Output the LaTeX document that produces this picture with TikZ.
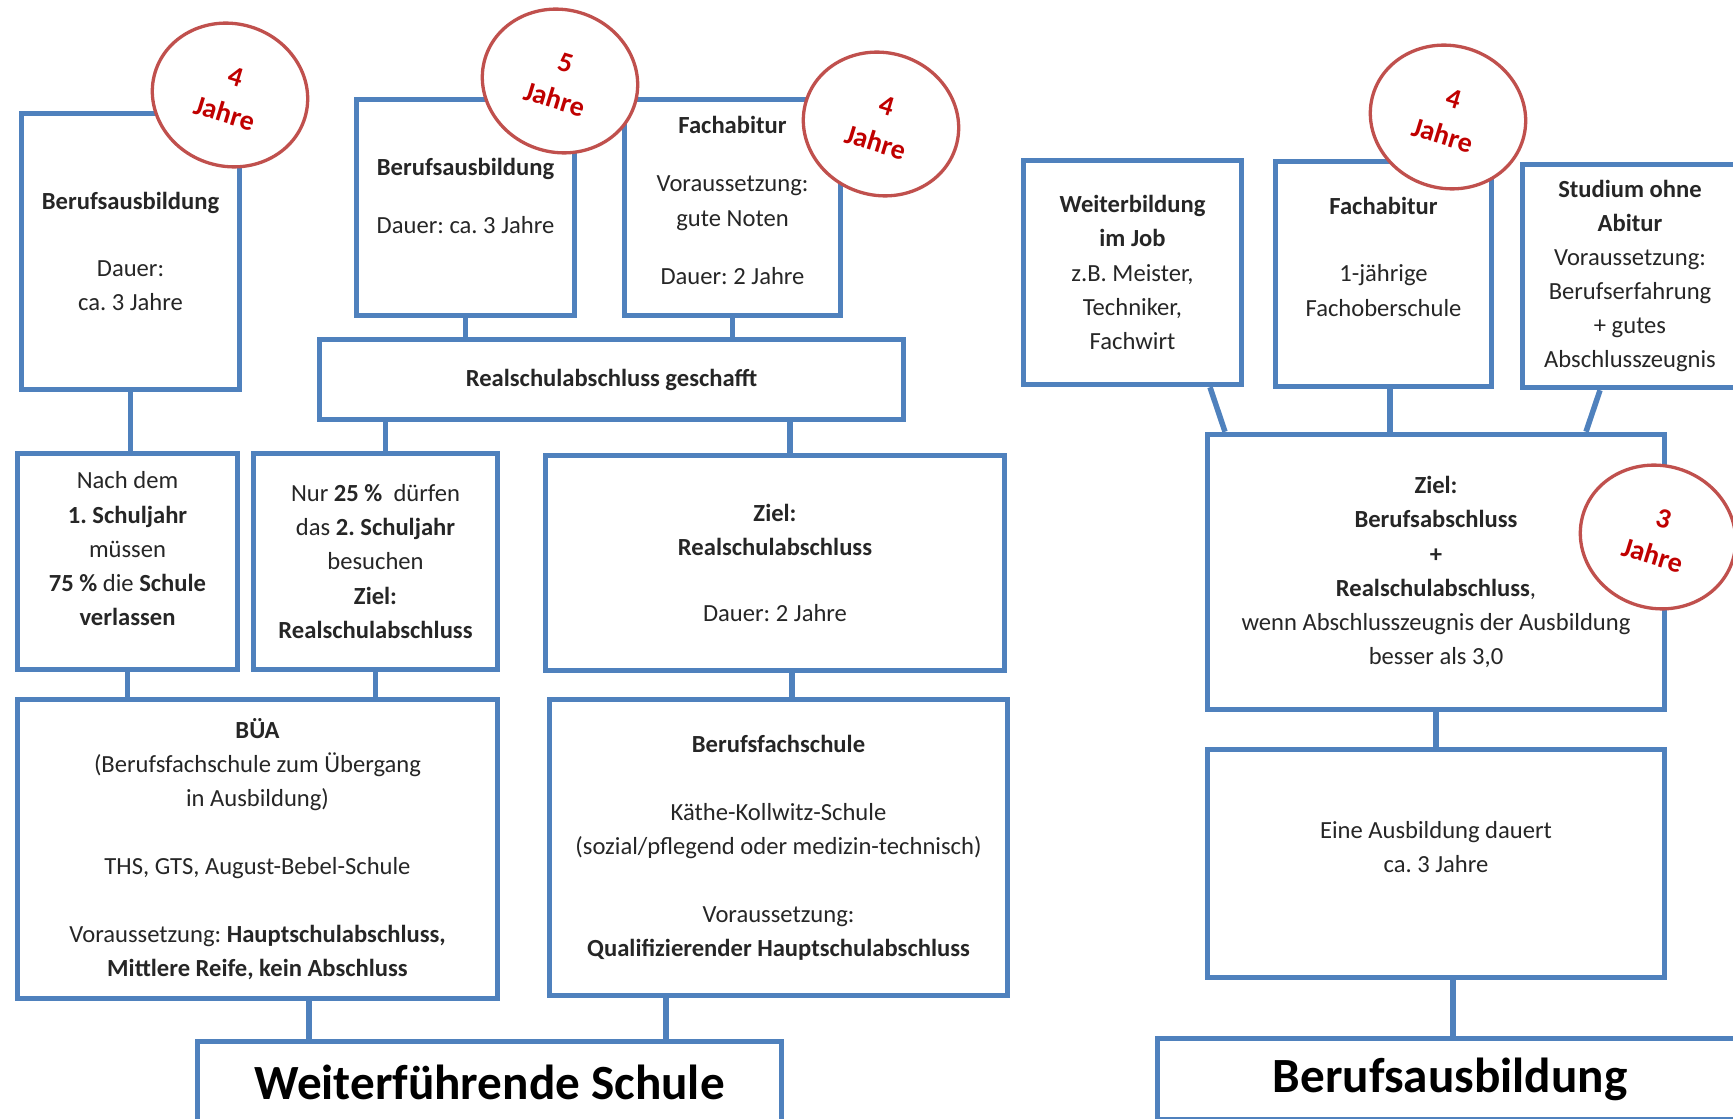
\documentclass[tikz,border=0pt]{standalone}
\usepackage{fontspec}
\setmainfont{Carlito}
\frenchspacing
\definecolor{boxblue}{RGB}{79,129,189}
\definecolor{ringred}{RGB}{192,80,77}
\definecolor{yearred}{RGB}{192,0,0}
\definecolor{txtgray}{RGB}{38,38,38}
\usetikzlibrary{shapes.geometric}

\begin{document}
\begin{tikzpicture}[
    box/.style={draw=boxblue,line width=0.11cm,fill=white,align=center,inner sep=0pt,
      text=txtgray,font=\fontsize{14}{19.4}\selectfont},
    title/.style={box,text=black,font=\fontsize{28}{34}\selectfont\bfseries},
    ring/.style={ellipse,draw=ringred,line width=0.066cm,fill=white,rotate=-17,
      minimum width=3.13cm,minimum height=2.85cm,align=center,inner sep=0pt,
      text=yearred,font=\fontsize{16}{22}\selectfont\bfseries},
    link/.style={draw=boxblue,line width=0.11cm}]

  \useasboundingbox (0,0) rectangle (34.66,22.36);
  \clip (0,0) rectangle (34.66,22.36);

  %% Left: Weiterfuehrende Schule
  \node[box,minimum width=4.36cm,minimum height=5.52cm] (bA) at (2.61,17.33)
    {\textbf{Berufsausbildung}\\[0.66cm] Dauer:\\ ca. 3 Jahre};
  \node[box,minimum width=4.36cm,minimum height=4.32cm] (bB) at (9.31,18.21)
    {\textbf{Berufsausbildung}\\[0.48cm] Dauer: ca. 3 Jahre\\[-0.42cm] \strut};
  \node[box,minimum width=4.32cm,minimum height=4.32cm] (bC) at (14.65,18.21)
    {\textbf{Fachabitur}\\[0.48cm] Voraussetzung:\\ gute Noten\\[0.48cm] Dauer: 2 Jahre\\[-0.60cm] \strut};
  \node[box,minimum width=11.68cm,minimum height=1.60cm] (bRS) at (12.23,14.77)
    {\textbf{Realschulabschluss geschafft}};

  \node[box,minimum width=4.40cm,minimum height=4.32cm] (bN1) at (2.55,11.13)
    {Nach dem\\ \textbf{1. Schuljahr}\\ müssen\\ \textbf{75 \%} die \textbf{Schule}\\ \textbf{verlassen}\\[-0.37cm] \strut};
  \node[box,minimum width=4.88cm,minimum height=4.32cm] (bN2) at (7.51,11.13)
    {Nur \textbf{25 \%}\ \ dürfen\\ das \textbf{2. Schuljahr}\\ besuchen\\ \textbf{Ziel:}\\ \textbf{Realschulabschluss}};
  \node[box,minimum width=9.18cm,minimum height=4.30cm] (bZR) at (15.50,11.10)
    {\textbf{Ziel:}\\ \textbf{Realschulabschluss}\\[0.64cm] Dauer: 2 Jahre};

  \node[box,minimum width=9.60cm,minimum height=5.98cm] (bBUA) at (5.15,5.38)
    {\textbf{BÜA}\\ (Berufsfachschule zum Übergang\\ in Ausbildung)\\[0.68cm]
     THS, GTS, August-Bebel-Schule\\[0.68cm]
     Voraussetzung: \textbf{Hauptschulabschluss,}\\ \textbf{Mittlere Reife, kein Abschluss}};
  \node[box,minimum width=9.16cm,minimum height=5.92cm] (bBFS) at (15.57,5.41)
    {\textbf{Berufsfachschule}\\[0.68cm] Käthe-Kollwitz-Schule\\
     (sozial/pflegend oder medizin-technisch)\\[0.68cm]
     Voraussetzung:\\ \textbf{Qualifizierender Hauptschulabschluss}};

  \node[title,minimum width=11.68cm,minimum height=1.62cm] (bWS) at (9.79,0.72)
    {Weiterführende Schule};

  \draw[link] (bA.south) -- (bA.south |- bN1.north);
  \draw[link] (bB.south) -- (bB.south |- bRS.north);
  \draw[link] (bC.south) -- (bC.south |- bRS.north);
  \draw[link] ([xshift=0.2cm]bN2.north) -- ([xshift=0.2cm]bN2.north |- bRS.south);
  \draw[link] ([xshift=0.3cm]bZR.north) -- ([xshift=0.3cm]bZR.north |- bRS.south);
  \draw[link] (bN1.south) -- (bN1.south |- bBUA.north);
  \draw[link] (bN2.south) -- (bN2.south |- bBUA.north);
  \draw[link] ([xshift=0.34cm]bZR.south) -- ([xshift=0.34cm]bZR.south |- bBFS.north);
  \draw[link] ([xshift=1.03cm]bBUA.south) -- ([xshift=1.03cm]bBUA.south |- bWS.north);
  \draw[link] ([xshift=-2.25cm]bBFS.south) -- ([xshift=-2.25cm]bBFS.south |- bWS.north);

  %% Right: Berufsausbildung
  \node[box,minimum width=4.36cm,minimum height=4.48cm] (bWB) at (22.65,16.91)
    {\textbf{Weiterbildung}\\ \textbf{im Job}\\ z.B. Meister,\\ Techniker,\\ Fachwirt};
  \node[box,minimum width=4.32cm,minimum height=4.50cm] (bFR) at (27.67,16.88)
    {\textbf{Fachabitur}\\[0.66cm] 1-jährige\\ Fachoberschule\\[-0.2cm] \strut};
  \node[box,minimum width=4.30cm,minimum height=4.46cm] (bSt) at (32.60,16.84)
    {\textbf{Studium ohne}\\ \textbf{Abitur}\\ Voraussetzung:\\ Berufserfahrung\\ + gutes\\ Abschlusszeugnis};
  \node[box,minimum width=9.14cm,minimum height=5.50cm] (bZB) at (28.72,10.92)
    {\textbf{Ziel:}\\ \textbf{Berufsabschluss}\\ \textbf{+}\\ \textbf{Realschulabschluss},\\
     wenn Abschlusszeugnis der Ausbildung\\ besser als 3,0};
  \node[box,minimum width=9.14cm,minimum height=4.56cm] (bEA) at (28.72,5.09)
    {Eine Ausbildung dauert\\ ca. 3 Jahre\\[-0.24cm] \strut};
  \node[title,minimum width=11.70cm,minimum height=1.62cm] (bBA) at (29.00,0.78)
    {Berufsausbildung};

  \draw[link] ([xshift=1.55cm]bWB.south) -- ([xshift=-4.22cm]bZB.north);
  \draw[link] ([xshift=0.13cm]bFR.south) -- ([xshift=0.13cm]bFR.south |- bZB.north);
  \draw[link] ([xshift=-0.6cm]bSt.south) -- ([xshift=3.0cm]bZB.north);
  \draw[link] (bZB.south) -- (bEA.north);
  \draw[link] ([xshift=0.34cm]bEA.south) -- ([xshift=0.34cm]bEA.south |- bBA.north);

  %% duration rings
  \node[ring] (cA) at (4.60,20.46) {4\\Jahre};
  \node[ring] (cB) at (11.20,20.74) {5\\Jahre};
  \node[ring] (cC) at (17.62,19.88) {4\\Jahre};
  \node[ring] (cR1) at (28.96,20.02) {4\\Jahre};
  \node[ring] (cR2) at (33.16,11.62) {3\\Jahre};
\end{tikzpicture}
\end{document}
